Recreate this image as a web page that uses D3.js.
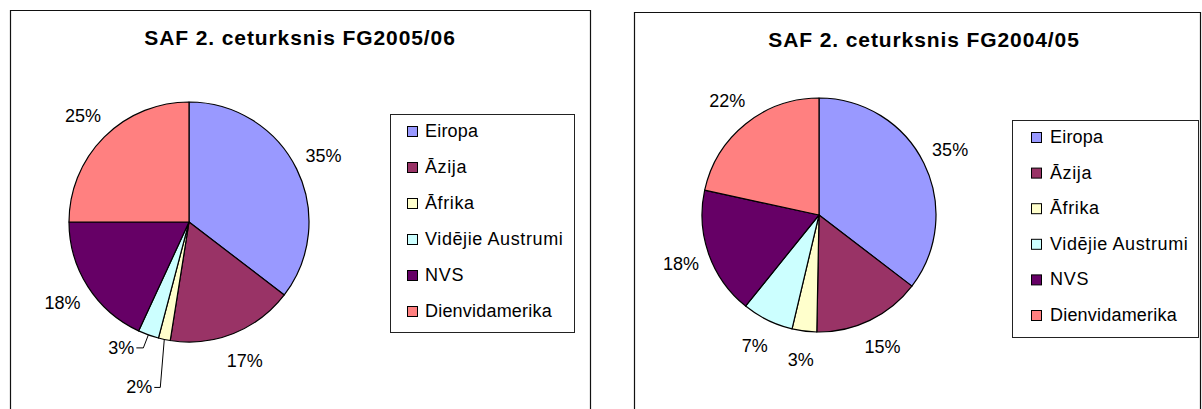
<!DOCTYPE html>
<html>
<head>
<meta charset="utf-8">
<script src="https://cdn.jsdelivr.net/npm/d3@7"></script>
<style>
  html, body { margin: 0; padding: 0; background: #fff; }
  svg { display: block; font-family: Arial, "Liberation Sans", sans-serif; }
</style>
</head>
<body>
<div id="chart"></div>
<script>
// Two SAF region-share pies, side by side (Excel-style frames)

const categories = ["Eiropa", "Āzija", "Āfrika", "Vidējie Austrumi", "NVS", "Dienvidamerika"];
const colors = ["#9999FF", "#993366", "#FFFFCC", "#CCFFFF", "#660066", "#FF8080"];
const titles = ["SAF 2. ceturksnis FG2005/06", "SAF 2. ceturksnis FG2004/05"];
const share0506 = [35.4, 17.1, 1.6, 2.8, 18.1, 25.0];
const share0405 = [35.4, 14.9, 3.4, 7.1, 17.6, 21.6];

const W = 1202, H = 409;
const svg = d3.select("#chart").append("svg").attr("width", W).attr("height", H);

const color = d3.scaleOrdinal().domain(categories).range(colors);

// layout per panel
const panels = [
  {
    values: share0506, title: titles[0],
    frame: { x: 10, y: 10, w: 580 }, titleX: 300, titleY: 45,
    cx: 189, cy: 222, r: 120,
    legend: { x: 390, y: 114, w: 184, h: 218, step: 36, sw: 17, tx: 35 },
    // small slices get an elbow leader: offset of elbow from the rim point, then a short tail
    leaders: { 2: { ex: -4, ey: 48, tail: 6 }, 3: { ex: -5, ey: 13, tail: 7 } }
  },
  {
    values: share0405, title: titles[1],
    frame: { x: 634, y: 12, w: 566 }, titleX: 924, titleY: 47,
    cx: 819, cy: 215, r: 117,
    legend: { x: 1012, y: 120, w: 186, h: 217, step: 35.6, sw: 19, tx: 38 },
    leaders: {}
  }
];

const pie = d3.pie().sort(null).value(d => d.v);

// Excel spreads out the names that carry macrons a little
const spacing = c => /[^\x00-\x7F]/.test(c) ? 0.6 : (c === "NVS" ? 0.8 : 0.2);

panels.forEach(p => {
  const g = svg.append("g");
  const data = categories.map((c, i) => ({ c, v: p.values[i], i }));
  const total = d3.sum(data, d => d.v);
  const arcs = pie(data);

  // frame (bottom runs past the window)
  g.append("path")
    .attr("d", `M${p.frame.x + 0.5},${H + 5}V${p.frame.y + 0.5}H${p.frame.x + p.frame.w + 0.5}V${H + 5}`)
    .attr("fill", "none").attr("stroke", "#111").attr("stroke-width", 1.2);

  g.append("text")
    .attr("x", p.titleX).attr("y", p.titleY)
    .attr("text-anchor", "middle")
    .attr("font-size", 21).attr("font-weight", "bold")
    .attr("letter-spacing", 0.9)
    .text(p.title);

  const arc = d3.arc().innerRadius(0).outerRadius(p.r);
  const rim = d3.arc().innerRadius(p.r).outerRadius(p.r);
  const lab = d3.arc().innerRadius(p.r * 1.25).outerRadius(p.r * 1.25);

  const pieG = g.append("g").attr("transform", `translate(${p.cx},${p.cy})`);
  pieG.selectAll("path.slice").data(arcs).join("path")
    .attr("class", "slice")
    .attr("d", arc)
    .attr("fill", d => color(d.data.c))
    .attr("stroke", "#000").attr("stroke-width", 1.2)
    .attr("stroke-linejoin", "round");

  const pct = d => Math.round(d.data.v / total * 100) + "%";

  arcs.forEach(d => {
    const L = p.leaders[d.data.i];
    if (L) {
      const [x0, y0] = rim.centroid(d);
      const ex = x0 + L.ex, ey = y0 + L.ey;
      pieG.append("path")
        .attr("d", d3.line()([[x0, y0], [ex, ey], [ex - L.tail, ey]]))
        .attr("fill", "none").attr("stroke", "#000").attr("stroke-width", 1);
      pieG.append("text")
        .attr("x", ex - L.tail - 2).attr("y", ey)
        .attr("text-anchor", "end").attr("dominant-baseline", "central")
        .attr("font-size", 18)
        .text(pct(d));
    } else {
      const [lx, ly] = lab.centroid(d);
      pieG.append("text")
        .attr("x", lx).attr("y", ly)
        .attr("text-anchor", "middle").attr("dominant-baseline", "central")
        .attr("font-size", 18)
        .text(pct(d));
    }
  });

  // legend
  const lg = p.legend;
  g.append("rect")
    .attr("x", lg.x + 0.5).attr("y", lg.y + 0.5)
    .attr("width", lg.w).attr("height", lg.h)
    .attr("fill", "#fff").attr("stroke", "#222").attr("stroke-width", 1);

  const items = g.selectAll("g.item").data(categories).join("g")
    .attr("class", "item")
    .attr("transform", (c, i) => `translate(${lg.x},${lg.y + 17 + i * lg.step})`);
  items.append("rect")
    .attr("x", lg.sw + 0.5).attr("y", -4.5)
    .attr("width", 10).attr("height", 10)
    .attr("fill", c => color(c)).attr("stroke", "#000").attr("stroke-width", 1);
  items.append("text")
    .attr("x", lg.tx).attr("y", 0)
    .attr("dominant-baseline", "central")
    .attr("font-size", 18).attr("letter-spacing", c => spacing(c))
    .text(c => c);
});
</script>
</body>
</html>
